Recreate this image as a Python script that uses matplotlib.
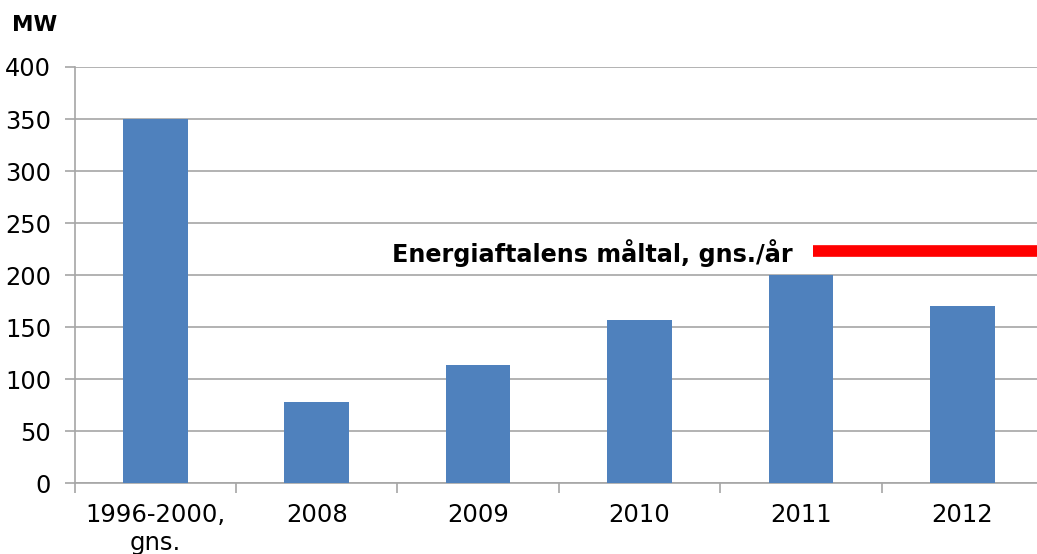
import matplotlib
matplotlib.use("Agg")
import matplotlib.pyplot as plt
import numpy as np

categories = ["1996-2000,\ngns.", "2008", "2009", "2010", "2011", "2012"]
values = [350, 78, 114, 157, 200, 170]
target_value = 223
target_label = "Energiaftalens måltal, gns./år"
yticks = [0, 50, 100, 150, 200, 250, 300, 350, 400]

W, H = 1037, 554
fig = plt.figure(figsize=(W / 100, H / 100), dpi=100)
left, right = 74.7 / W, 1043 / W
bottom, top = 1 - 483.3 / H, 1 - 67 / H
ax = fig.add_axes([left, bottom, right - left, top - bottom])

x = np.arange(len(categories))
ax.bar(x, values, width=0.4, color="#4F81BD", zorder=3)

ax.set_xlim(-0.5, len(categories) - 0.5)
ax.set_ylim(0, 400)
ax.set_yticks(yticks)
ax.set_yticklabels([str(v) for v in yticks], fontsize=17.3, color="#000000")
ax.yaxis.grid(True, color="#A6A6A6", linewidth=1.2, zorder=0)
ax.set_axisbelow(True)

ax.set_xticks(x)
ax.set_xticklabels(categories, fontsize=17.5, linespacing=1.25)
ax.set_xticks(np.arange(-0.5, len(categories) + 0.5, 1), minor=True)
ax.tick_params(axis="x", which="major", length=0, pad=14)
ax.tick_params(axis="x", which="minor", length=7, color="#A6A6A6", width=1.2)
ax.tick_params(axis="y", length=7, color="#A6A6A6", width=1.2, pad=10)

for s in ["top", "right"]:
    ax.spines[s].set_visible(False)
for s in ["left", "bottom"]:
    ax.spines[s].set_color("#A6A6A6")
    ax.spines[s].set_linewidth(1.2)

# target line
ax.plot([4.076, 5.5], [target_value, target_value], color="#FF0000",
        linewidth=8.4, solid_capstyle="butt", zorder=4, clip_on=False)
ax.text(3.95, target_value - 2, target_label, ha="right", va="center",
        fontsize=17.2, fontweight="bold", zorder=5)

fig.text(12 / W, 1 - 25 / H, "MW", fontsize=15.5, fontweight="bold",
         ha="left", va="center")

fig.savefig("out.png", dpi=100)
